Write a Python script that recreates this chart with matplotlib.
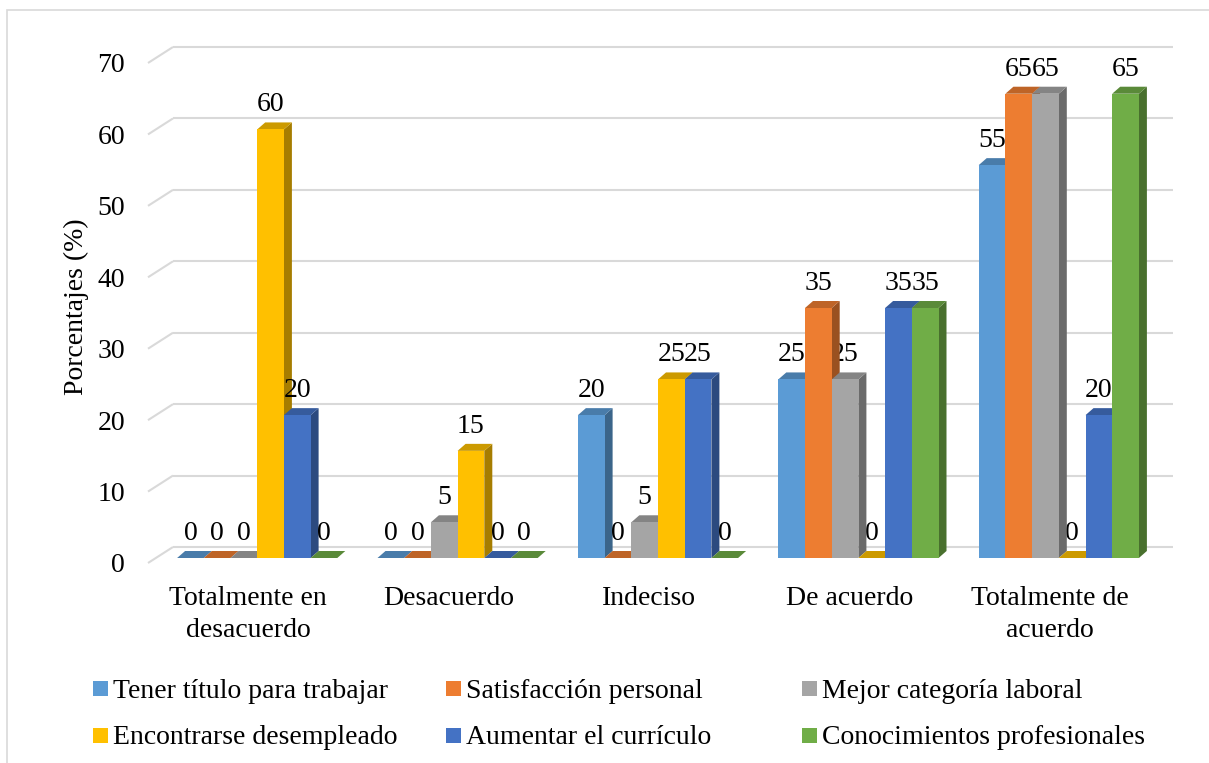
import matplotlib
matplotlib.use("Agg")
import matplotlib.pyplot as plt
from matplotlib.patches import Polygon, Rectangle
import numpy as np

# ---- data -------------------------------------------------------------
categories = ["Totalmente en\ndesacuerdo", "Desacuerdo", "Indeciso",
              "De acuerdo", "Totalmente de\nacuerdo"]
series_names = ["Tener título para trabajar", "Satisfacción personal",
                "Mejor categoría laboral", "Encontrarse desempleado",
                "Aumentar el currículo", "Conocimientos profesionales"]
tener_titulo = [0, 0, 20, 25, 55]
satisfaccion = [0, 0, 0, 35, 65]
mejor_categoria = [0, 5, 5, 25, 65]
desempleado = [60, 15, 25, 0, 0]
curriculo = [20, 0, 25, 35, 20]
conocimientos = [0, 0, 0, 35, 65]
y_ticks = [0, 10, 20, 30, 40, 50, 60, 70]

series_values = [tener_titulo, satisfaccion, mejor_categoria,
                 desempleado, curriculo, conocimientos]
colors = ["#5B9BD5", "#ED7D31", "#A5A5A5", "#FFC000", "#4472C4", "#70AD47"]

plt.rcParams["font.family"] = ["Liberation Serif", "DejaVu Serif"]
FS = 20

W, H = 1209, 763
fig = plt.figure(figsize=(W / 100, H / 100), dpi=100)

# outer frame of the chart area
fig.patches.append(Rectangle((7 / W, -0.02), 1.05, (H - 10) / H + 0.02,
                             transform=fig.transFigure, fill=False,
                             edgecolor="#D9D9D9", linewidth=1.2, zorder=0))

# front plane of the plot: x in category units, y in percent
ax_l, ax_r, ax_t, ax_b = 148, 1150, 63, 563
ax = fig.add_axes([ax_l / W, (H - ax_b) / H, (ax_r - ax_l) / W, (ax_b - ax_t) / H])
ax.set_xlim(0, len(categories))
ax.set_ylim(0, 70)
for s in ax.spines.values():
    s.set_visible(False)

px_x = (ax_r - ax_l) / len(categories)   # pixels per category unit
px_y = (ax_b - ax_t) / 70.0              # pixels per percent

# depth of the back wall (pixel offsets turned into data units)
wall_dx, wall_dy = 25 / px_x, 16 / px_y
back_right = (1173 - ax_l) / px_x
grid_c = "#D9D9D9"
for v in y_ticks:
    ax.plot([0, wall_dx], [v, v + wall_dy], color=grid_c, lw=1.5,
            clip_on=False, zorder=1, solid_capstyle="butt")
    ax.plot([wall_dx, back_right], [v + wall_dy, v + wall_dy], color=grid_c,
            lw=1.5, clip_on=False, zorder=1, solid_capstyle="butt")

# ticks
ax.set_yticks(y_ticks)
ax.set_yticklabels([str(t) for t in y_ticks], fontsize=FS)
ax.tick_params(axis="y", length=0, pad=23 / 1.389)
ax.set_xticks(np.arange(len(categories)) + 0.5)
ax.set_xticklabels(categories, fontsize=FS, linespacing=1.36)
ax.tick_params(axis="x", length=0, pad=23 / 1.389)
ax.set_ylabel("Porcentajes (%)", fontsize=FS)
ax.yaxis.set_label_coords((89 - ax_l) / (ax_r - ax_l), (ax_b - 307) / (ax_b - ax_t))


def shade(c, f):
    r, g, b = matplotlib.colors.to_rgb(c)
    return (r * f, g * f, b * f)


# 3-D style clustered columns
n_ser = len(series_values)
bw = 26.7 / px_x
off_x, off_y = 9 / px_x, 5 / px_y      # columns sit a little behind the front plane
dep_x, dep_y = 8 / px_x, 7 / px_y      # column depth
z = 2
for i in range(len(categories)):
    for j in range(n_ser):
        v = series_values[j][i]
        c = colors[j]
        x0 = i + 0.5 - n_ser * bw / 2 + j * bw + off_x
        b = off_y
        top = b + v
        side = Polygon([(x0 + bw, b), (x0 + bw + dep_x, b + dep_y),
                        (x0 + bw + dep_x, top + dep_y), (x0 + bw, top)],
                       closed=True, facecolor=shade(c, 0.65), edgecolor="none",
                       clip_on=False, zorder=z)
        lid = Polygon([(x0, top), (x0 + bw, top), (x0 + bw + dep_x, top + dep_y),
                       (x0 + dep_x, top + dep_y)], closed=True,
                      facecolor=shade(c, 0.8), edgecolor="none",
                      clip_on=False, zorder=z + 0.1)
        front = Rectangle((x0, b), bw, v, facecolor=c, edgecolor="none",
                          clip_on=False, zorder=z + 0.2)
        ax.add_patch(side)
        ax.add_patch(lid)
        ax.add_patch(front)
        ax.annotate(str(v), (x0 + bw / 2, top), xytext=(0, 18 / 1.389),
                    textcoords="offset points", ha="center", va="baseline",
                    fontsize=FS, zorder=20, annotation_clip=False)
        z += 1

# legend laid out in three equal columns
leg_cols = [93, 446, 802]
leg_rows = [688, 735]
sq = 15
for k, name in enumerate(series_names):
    r, col = divmod(k, 3)
    x = leg_cols[col]
    y = leg_rows[r]
    fig.patches.append(Rectangle((x / W, (H - y - sq / 2) / H), sq / W, sq / H,
                                 transform=fig.transFigure,
                                 facecolor=colors[k], edgecolor="none"))
    fig.text((x + 20) / W, (H - y) / H, name, fontsize=FS, ha="left",
             va="center_baseline")

fig.savefig("out.png", dpi=100)
